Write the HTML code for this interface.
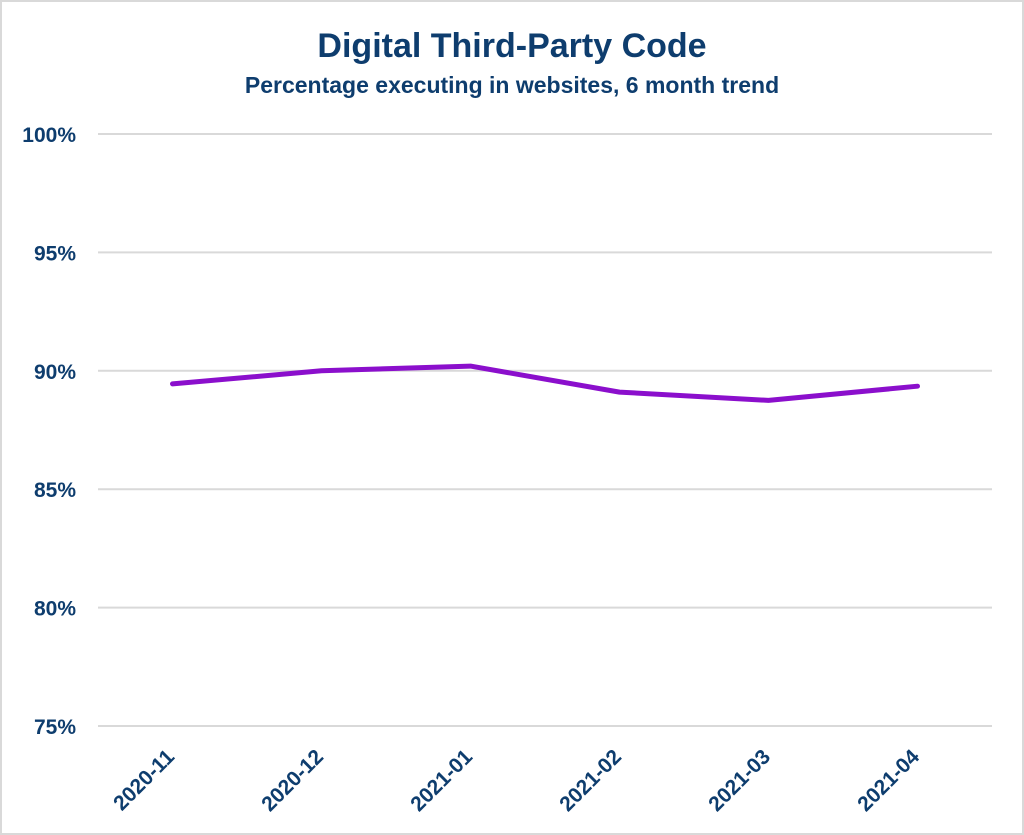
<!DOCTYPE html>
<html><head><meta charset="utf-8"><style>
html,body{margin:0;padding:0;background:#fff}
svg{display:block;font-family:"Liberation Sans",Arial,sans-serif}
</style></head><body>
<svg width="1024" height="835" viewBox="0 0 1024 835">
<rect x="1" y="1" width="1022" height="833" fill="#fff" stroke="#d9d9d9" stroke-width="2"/>
<text x="512" y="57" text-anchor="middle" font-size="34" font-weight="bold" fill="#0e3d6e">Digital Third-Party Code</text>
<text x="512" y="93" text-anchor="middle" font-size="23" font-weight="bold" fill="#0e3d6e">Percentage executing in websites, 6 month trend</text>
<g id="grid"></g><g id="xlabels"></g><g id="series"></g>
<script>
const categories=["2020-11","2020-12","2021-01","2021-02","2021-03","2021-04"];
const values=[89.45,90.0,90.2,89.1,88.75,89.35];
const yTicks=[75,80,85,90,95,100];
const yTickLabels=["75%","80%","85%","90%","95%","100%"];
const NS="http://www.w3.org/2000/svg";
const x0=98,x1=992,yTop=134,yBot=726,yMin=75,yMax=100;
const y=v=>yBot-(v-yMin)/(yMax-yMin)*(yBot-yTop);
const band=(x1-x0)/categories.length;
const x=i=>x0+band*(i+0.5);
const grid=document.getElementById('grid');
yTicks.forEach((t,i)=>{
 const l=document.createElementNS(NS,'line');
 l.setAttribute('x1',x0);l.setAttribute('x2',x1);l.setAttribute('y1',y(t));l.setAttribute('y2',y(t));
 l.setAttribute('stroke','#d9d9d9');l.setAttribute('stroke-width','2');
 
 
 grid.appendChild(l);
 const tx=document.createElementNS(NS,'text');
 tx.setAttribute('x',76);tx.setAttribute('y',y(t)+8);tx.setAttribute('text-anchor','end');
 tx.setAttribute('font-size','21');tx.setAttribute('font-weight','bold');tx.setAttribute('fill','#0e3d6e');
 tx.textContent=yTickLabels[i];
 
 
 grid.appendChild(tx);
});
const xl=document.getElementById('xlabels');
categories.forEach((c,i)=>{
 const tx=document.createElementNS(NS,'text');
 const px=x(i)+3,py=758;
 tx.setAttribute('x',px);tx.setAttribute('y',py);tx.setAttribute('text-anchor','end');
 tx.setAttribute('transform','rotate(-45 '+px+' '+py+')');
 tx.setAttribute('font-size','21');tx.setAttribute('font-weight','bold');tx.setAttribute('fill','#0e3d6e');
 tx.textContent=c;
 
 
 xl.appendChild(tx);
});
const p=document.createElementNS(NS,'polyline');
p.setAttribute('points',values.map((v,i)=>x(i)+','+y(v)).join(' '));
p.setAttribute('fill','none');p.setAttribute('stroke','#8b0fcc');p.setAttribute('stroke-width','5');
p.setAttribute('stroke-linejoin','round');p.setAttribute('stroke-linecap','round');


document.getElementById('series').appendChild(p);
</script>
</svg>
</body></html>
